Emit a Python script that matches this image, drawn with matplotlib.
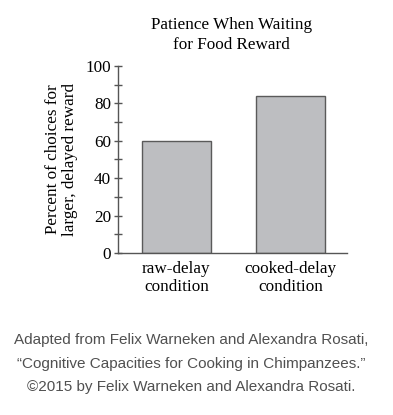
import matplotlib.pyplot as plt

## chart data
conditions = ['raw-delay\ncondition', 'cooked-delay\ncondition']
percent_choices = [60, 84]
y_ticks = [0, 20, 40, 60, 80, 100]

fig = plt.figure(figsize=(3.93, 4.15), dpi=100)
ax = fig.add_axes([0.300, 0.3904, 0.583, 0.4506])

serif = 'Liberation Serif'

ax.bar(range(len(conditions)), percent_choices, width=0.605,
       color='#bdbec1', edgecolor='#5a5a5a', linewidth=1.0)

ax.set_xlim(-0.513, 1.496)
ax.set_ylim(0, 100)
ax.set_yticks(y_ticks)
ax.set_yticks(range(10, 100, 20), minor=True)
ax.set_yticklabels([str(v) for v in y_ticks], fontfamily=serif, fontsize=12.3)
ax.tick_params(axis='y', which='both', direction='inout', length=6, width=1, color='#555555', pad=2)
ax.set_xticks(range(len(conditions)))
ax.set_xticklabels(conditions, fontfamily=serif, fontsize=12.3, linespacing=1.15)
ax.tick_params(axis='x', length=0, pad=6)

for side in ['top', 'right']:
    ax.spines[side].set_visible(False)
for side in ['left', 'bottom']:
    ax.spines[side].set_color('#555555')
    ax.spines[side].set_linewidth(1.0)

ax.set_ylabel('Percent of choices for\nlarger, delayed reward', fontfamily=serif,
              fontsize=12.3, linespacing=1.15, labelpad=5)

fig.text(0.589, 0.915, 'Patience When Waiting\nfor Food Reward', ha='center', va='center',
         fontfamily=serif, fontsize=12.3, linespacing=1.3)

caption = ('Adapted from Felix Warneken and Alexandra Rosati,\n'
           '\u201cCognitive Capacities for Cooking in Chimpanzees.\u201d\n'
           '\u00a92015 by Felix Warneken and Alexandra Rosati.')
fig.text(0.486, 0.124, caption, ha='center', va='center', fontfamily='Liberation Sans',
         fontsize=11.0, color='#505050', linespacing=1.9)

fig.savefig('out.png', dpi=100)
